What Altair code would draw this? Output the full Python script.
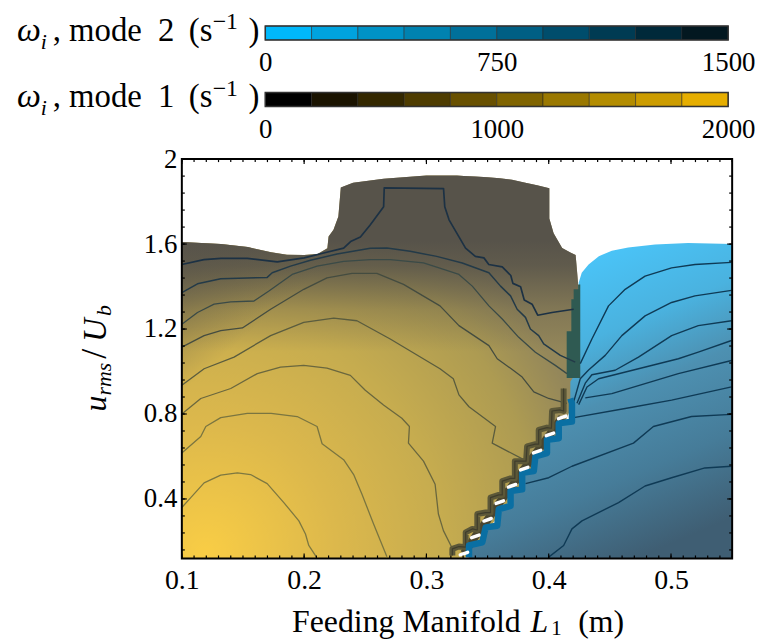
import altair as alt
import pandas as pd

FONT = "Liberation Serif"

# ---------- colour bars ----------
M2_EDGES = [0, 150, 300, 450, 600, 750, 900, 1050, 1200, 1350, 1500]
M2_COLORS = ["#00B8FB", "#00A3DF", "#0092C6", "#0082B0", "#00709A", "#005F84", "#004D6C", "#003B53", "#00293A", "#031820"]
M1_EDGES = [0, 200, 400, 600, 800, 1000, 1200, 1400, 1600, 1800, 2000]
M1_COLORS = ["#000000", "#1A1300", "#342800", "#4E3C00", "#685000", "#806400", "#9A7800", "#B38C00", "#CC9C00", "#E6AE00"]

# ---------- field outlines (L1, u/Ub) ----------
M1_X = [.1, .132, .154, .173, .186, .2, .211, .219, .22, .224, .228, .23, .24, .265, .30, .325, .3307, .34, .35, .36, .37, .38, .3905, .4005, .4005, .404, .411, .4177, .422, .424]
M1_TOP = [1.61, 1.60, 1.586, 1.561, 1.55, 1.549, 1.553, 1.58, 1.636, 1.667, 1.73, 1.866, 1.889, 1.908, 1.923, 1.923, 1.921, 1.918, 1.915, 1.91, 1.903, 1.89, 1.877, 1.863, 1.72, 1.651, 1.581, 1.56, 1.549, 1.418]
M1_BOT = [.12, .12, .12, .12, .12, .12, .12, .12, .12, .12, .12, .12, .12, .12, .12, .12, .12, .17, .25, .33, .41, .49, .57, .65, .65, .68, .73, .82, .88, 1.0]
LEFT_X = [.1, .132, .154, .173, .186, .2, .211, .24]
LEFT_TOP = [1.61, 1.60, 1.586, 1.561, 1.55, 1.549, 1.553, 1.553]
LEFT_BOT = [.9, .9, .9, .9, .9, .9, .9, .9]

M2_X = [.3265, .3348, .3348, .3457, .3484, .3579, .3592, .3688, .3688, .3783, .3783, .3878, .3891, .3986, .3986, .4082, .4082, .4177, .4177, .4245, .4245, .427, .4326, .441, .4516, .465, .487, .514, .55]
M2_TOP = [.12, .126, .181, .196, .266, .274, .352, .367, .437, .445, .523, .531, .601, .616, .679, .686, .756, .764, .952, 1.015, 1.418, 1.465, 1.504, 1.543, 1.569, 1.584, 1.598, 1.605, 1.60]

OVER_X = [.4147, .4185, .4204, .424, .4258]
OVER_TOP = [1.19, 1.34, 1.387, 1.41, 1.26]
OVER_BOT = [.97, .97, .97, .97, .97]

# ---------- mode 1 contours ----------
C1 = [(.10, 1.504), (.118, 1.527), (.132, 1.533), (.1535, 1.533), (.178, 1.516), (.20, 1.535), (.216, 1.558), (.2323, 1.581), (.238, 1.612), (.246, 1.633), (.254, 1.69), (.265, 1.776), (.2655, 1.865), (.314, 1.861), (.315, 1.776), (.3185, 1.714), (.332, 1.581), (.340, 1.542), (.347, 1.535), (.351, 1.504), (.362, 1.493), (.369, 1.452), (.3707, 1.415), (.377, 1.399), (.380, 1.337), (.3864, 1.317), (.391, 1.265), (.4027, 1.278), (.4204, 1.293)]
C2 = [(.10, 1.371), (.1128, 1.413), (.1318, 1.437), (.1698, 1.443), (.1739, 1.465), (.1889, 1.496), (.2052, 1.524), (.2269, 1.553), (.2541, 1.58), (.2677, 1.581), (.2867, 1.566), (.3084, 1.542), (.3293, 1.511), (.3511, 1.465), (.3606, 1.402), (.3688, 1.356), (.3742, 1.293), (.381, 1.255), (.385, 1.2), (.3918, 1.169), (.3959, 1.13), (.4095, 1.076), (.4217, 1.044)]
C3 = [(.1, 1.223), (.1128, 1.278), (.1264, 1.317), (.14, 1.328), (.159, 1.332), (.1712, 1.379), (.1902, 1.457), (.2106, 1.496), (.2323, 1.519), (.2541, 1.527), (.2704, 1.527), (.2976, 1.511), (.3103, 1.488), (.3266, 1.457), (.3375, 1.402), (.3511, 1.309), (.362, 1.247), (.3755, 1.161), (.3891, 1.091), (.4054, 1.029), (.4149, .99)]
C4 = [(.1, 1.115), (.1182, 1.169), (.1318, 1.192), (.1495, 1.205), (.1726, 1.293), (.1997, 1.387), (.2187, 1.441), (.2391, 1.462), (.2595, 1.462), (.2813, 1.41), (.3111, 1.309), (.3266, 1.216), (.3511, 1.122), (.3579, 1.06), (.3688, 1.015), (.3783, .974), (.3878, .904), (.4, .873), (.4149, .85)]
C5 = [(.1, .935), (.1182, 1.013), (.1427, 1.068), (.1726, 1.169), (.1997, 1.231), (.2242, 1.251), (.2432, 1.239), (.2704, 1.153), (.3111, 1.013), (.322, .966), (.3266, .89), (.3348, .834), (.3565, .741), (.3538, .663), (.3796, .585)]
C6 = [(.1, .8), (.1155, .873), (.14, .92), (.1617, .99), (.1807, 1.021), (.1997, 1.029), (.2187, 1.016), (.2378, .982), (.25, .912), (.2649, .842), (.2799, .78), (.2861, .741), (.2853, .663), (.2976, .578), (.3071, .469), (.3098, .329), (.3139, .251), (.322, .157)]
C7 = [(.1, .616), (.1155, .694), (.1196, .741), (.1318, .783), (.1535, .803), (.173, .803), (.1943, .788), (.2106, .741), (.2147, .66), (.2323, .585), (.2405, .515), (.2473, .422), (.2568, .282), (.2677, .128)]
C8 = [(.1, .36), (.1073, .406), (.1182, .476), (.1318, .512), (.1454, .523), (.1562, .515), (.1698, .472), (.1834, .383), (.1957, .297), (.2011, .235), (.2038, .181), (.2101, .126)]

# ---------- mode 2 contours ----------
B1 = [(.4258, 1.037), (.4353, 1.153), (.4489, 1.309), (.4625, 1.387), (.4788, 1.449), (.5005, 1.488), (.5196, 1.504), (.5495, 1.514)]
B2 = [(.4204, .857), (.4258, .966), (.4326, 1.007), (.4462, 1.076), (.4598, 1.169), (.4788, 1.262), (.5005, 1.325), (.5196, 1.356), (.5495, 1.382)]
B3 = [(.4231, .851), (.4299, .945), (.4353, .985), (.4543, 1.006), (.4734, 1.068), (.5005, 1.169), (.5223, 1.216), (.5495, 1.239)]
B4 = [(.4245, .844), (.4313, .927), (.4408, .966), (.4734, 1.013), (.506, 1.06), (.5223, 1.091), (.5495, 1.146)]
B5 = [(.4299, .876), (.4516, .896), (.506, .99), (.5495, 1.052)]
B6 = [(.4204, .783), (.4625, .826), (.5005, .865), (.5495, .928)]
B7 = [(.381, .472), (.4, .5), (.419, .554), (.4693, .663), (.4856, .741), (.5168, .788), (.5495, .798)]
B8 = [(.4, .126), (.4122, .181), (.419, .259), (.4272, .297), (.4571, .383), (.4788, .461), (.5005, .5), (.5277, .546), (.5495, .554)]

# ---------- staircase between the two modes ----------
STAIR_BLUE = [(.3348, .126), (.3348, .181), (.3457, .196), (.3484, .266), (.3579, .274), (.3592, .352), (.3688, .367), (.3688, .437), (.3783, .445), (.3783, .523), (.3878, .531), (.3891, .601), (.3986, .616), (.3986, .679), (.4082, .686), (.4082, .756), (.419, .764), (.419, .85), (.4177, .873)]
STAIR_OLIVE = [(.3212, .134), (.3212, .165), (.3266, .176), (.3321, .173), (.3321, .243), (.3375, .259), (.3416, .254), (.3416, .329), (.3484, .336), (.3524, .336), (.3524, .406), (.3592, .419), (.362, .419), (.362, .484), (.3688, .497), (.3723, .497), (.3723, .578), (.3783, .578), (.3815, .578), (.3823, .648), (.3891, .658), (.3918, .658), (.3918, .725), (.3986, .736), (.4022, .733), (.4027, .814), (.4095, .819), (.4122, .814), (.4122, .92)]
DASH_X = [.3307, .340, .350, .360, .370, .380, .3905, .401, .411]
DASH_Y = [.143, .224, .302, .385, .462, .543, .623, .704, .784]

# ---------- ticks ----------
X_MAJOR = [.1, .2, .3, .4, .5]
X_MINOR = [round(.1 + i * .01, 2) for i in range(46)]
Y_MAJOR = [.4, .8, 1.2, 1.6, 2.0]
Y_MINOR = [round(.16 + i * .08, 2) for i in range(24)]

W, H = 554, 402
xs = alt.Scale(domain=[.1, .55], nice=False, zero=False)
ys = alt.Scale(domain=[.12, 2.0], nice=False, zero=False)
AX = alt.Axis(values=X_MAJOR, format=".1f", labelFont=FONT, labelFontSize=28, labelColor="black",
              domain=False, ticks=False, grid=False, title=None, labelPadding=8, labelFlush=False)
AY = alt.Axis(values=Y_MAJOR, format="~g", labelFont=FONT, labelFontSize=27, labelColor="black",
              domain=False, ticks=False, grid=False, title=None, labelPadding=5, labelFlush=False)
X = alt.X("x:Q", scale=xs, axis=AX)
Y = alt.Y("y:Q", scale=ys, axis=AY)


def table(pts):
    return pd.DataFrame({"x": [p[0] for p in pts], "y": [p[1] for p in pts], "i": range(len(pts))})


def line(pts, color, width, **kw):
    return alt.Chart(table(pts)).mark_line(color=color, strokeWidth=width, strokeJoin="round", **kw).encode(x=X, y=Y, order=alt.Order("i:Q"))


def band(xv, top, bot, fill, **kw):
    df = pd.DataFrame({"x": xv, "y": top, "y2": bot})
    return alt.Chart(df).mark_area(color=fill, **kw).encode(x=X, y=Y, y2="y2:Q")


def label(text, x, y, size=33, style="normal", angle=0, align="left"):
    kw = {"angle": angle} if angle else {}
    return alt.Chart(pd.DataFrame({"a": [0]})).mark_text(
        text=text, font=FONT, fontSize=size, fontStyle=style, align=align, baseline="alphabetic", color="black", **kw
    ).encode(x=alt.value(x), y=alt.value(y))


def stop(o, c):
    return {"offset": o, "color": c}


RADIAL = {"gradient": "radial", "x1": .06, "y1": .97, "x2": .06, "y2": .97, "r1": 0, "r2": 1.0,
          "stops": [stop(0, "#F9CD45"), stop(.33, "#DCB84C"), stop(.6, "#C6AC4F"), stop(.85, "#AD9B52"), stop(1, "#94875A")]}
TOPDARK = {"gradient": "linear", "x1": 0, "y1": 0, "x2": 0, "y2": 1,
           "stops": [stop(0, "rgba(87,83,74,1)"), stop(.17, "rgba(87,83,74,1)"), stop(.235, "rgba(87,83,74,.85)"), stop(.35, "rgba(87,83,74,.3)"), stop(.46, "rgba(87,83,74,0)"), stop(1, "rgba(87,83,74,0)")]}
LEFTDARK = {"gradient": "linear", "x1": 0, "y1": .2, "x2": .7, "y2": .9,
            "stops": [stop(0, "rgba(87,83,74,.55)"), stop(.57, "rgba(87,83,74,0)"), stop(1, "rgba(87,83,74,0)")]}
BLUE = {"gradient": "linear", "x1": .3, "y1": .05, "x2": .65, "y2": 1,
        "stops": [stop(0, "#4AC8FD"), stop(.3, "#4AB2DF"), stop(.5, "#4D90B1"), stop(.75, "#467C99"), stop(1, "#3F5E73")]}

layers = [
    band(M1_X, M1_TOP, M1_BOT, RADIAL),
    band(M1_X, M1_TOP, M1_BOT, TOPDARK),
    band(LEFT_X, LEFT_TOP, LEFT_BOT, LEFTDARK),
    band(M2_X, M2_TOP, [.12] * len(M2_X), BLUE),
    band(OVER_X, OVER_TOP, OVER_BOT, "#2F5A52", interpolate="step-after"),
]
for c, col, w in [(C1, "#1C3144", 1.7), (C2, "#233A48", 1.5), (C3, "#3A4A47", 1.3), (C4, "#444C40", 1.3),
                  (C5, "#5A5C3E", 1.3), (C6, "#6A673E", 1.3), (C7, "#7A7540", 1.3), (C8, "#7E7840", 1.3)]:
    layers.append(line(c, col, w))
for c in [B1, B2, B3, B4, B5, B6, B7, B8]:
    layers.append(line(c, "#0F3A55", 1.4))
layers += [
    line(list(zip(DASH_X, DASH_Y)), "#4A4630", 8),
    line(STAIR_OLIVE, "#5C5838", 6),
    line(STAIR_OLIVE, "#3F3D2C", 1.2),
    line(STAIR_BLUE, "#0A6FA3", 6.5),
]
dash = pd.DataFrame({"x": [v - .003 for v in DASH_X], "x2": [v + .003 for v in DASH_X],
                     "y": [v - .006 for v in DASH_Y], "y2": [v + .006 for v in DASH_Y]})
layers.append(alt.Chart(dash).mark_rule(color="white", strokeWidth=3.5, strokeCap="round").encode(x=X, x2="x2:Q", y=Y, y2="y2:Q"))

# ticks point into the plot on all four sides
for vals, n in [(X_MINOR, 3), (X_MAJOR, 5)]:
    d = pd.DataFrame({"x": vals})
    layers.append(alt.Chart(d).mark_rule(color="black", strokeWidth=1.2).encode(x=X, y=alt.value(H), y2=alt.value(H - n)))
    layers.append(alt.Chart(d).mark_rule(color="black", strokeWidth=1.2).encode(x=X, y=alt.value(0), y2=alt.value(n)))
for vals, n in [(Y_MINOR, 3), (Y_MAJOR, 5)]:
    d = pd.DataFrame({"y": vals})
    layers.append(alt.Chart(d).mark_rule(color="black", strokeWidth=1.2).encode(y=Y, x=alt.value(0), x2=alt.value(n)))
    layers.append(alt.Chart(d).mark_rule(color="black", strokeWidth=1.2).encode(y=Y, x=alt.value(W), x2=alt.value(W - n)))

frame = alt.Chart(pd.DataFrame({"x": [.1], "x2": [.55], "y": [.12], "y2": [2.0]})).mark_rect(
    fillOpacity=0, stroke="black", strokeWidth=2
).encode(x=X, x2="x2:Q", y=Y, y2="y2:Q")
layers.append(frame)

# axis titles, written as pieces for the subscripts and italics
layers += [
    label("Feeding Manifold", 111, 476, size=32),
    label("L", 351, 476, size=32, style="italic"),
    label("1", 372, 479, size=21),
    label("(m)", 399, 476, size=32),
    label("u", -76, 254, size=32, style="italic", angle=270),
    label("rms", -71, 238, size=22, style="italic", angle=270),
    label("/", -76, 201, size=36, angle=270),
    label("U", -76, 184, size=33, style="italic", angle=270),
    label("b", -71, 158, size=22, style="italic", angle=270),
]
main = alt.layer(*layers).properties(width=W, height=H)


def colorbar(edges, colors, ticks, domain, name):
    df = pd.DataFrame({"lo": edges[:-1], "hi": edges[1:], "c": [str(e) for e in edges[:-1]]})
    axis = alt.Axis(values=ticks, format="d", labelFont=FONT, labelFontSize=27, labelColor="black", domain=False,
                    ticks=False, grid=False, title=None, labelPadding=10, labelFlush=False)
    xc = alt.X("lo:Q", scale=alt.Scale(domain=domain, nice=False, zero=False), axis=axis)
    bar = alt.Chart(df).mark_rect(stroke="#222222", strokeWidth=.5).encode(
        x=xc, x2="hi:Q", y=alt.value(0), y2=alt.value(14),
        color=alt.Color("c:N", scale=alt.Scale(domain=[str(e) for e in edges[:-1]], range=colors), legend=None),
    )
    outline = alt.Chart(pd.DataFrame({"lo": [edges[0]], "hi": [edges[-1]]})).mark_rect(
        fillOpacity=0, stroke="#333333", strokeWidth=1.5
    ).encode(x=xc, x2="hi:Q", y=alt.value(0), y2=alt.value(14))
    return alt.layer(
        bar, outline,
        label("ω", -166, 15, size=34, style="italic"),
        label("i", -142, 23, size=22, style="italic"),
        label(", mode", -130, 15),
        label(name, -24, 15),
        label("(s", 7, 15),
        label("−1", 31, 3, size=24),
        label(")", 67, 15),
    ).properties(width=W, height=14)


bar2 = colorbar(M2_EDGES, M2_COLORS, [0, 750, 1500], [-270.4, 1512.9], "2")
bar1 = colorbar(M1_EDGES, M1_COLORS, [0, 1000, 2000], [-360.5, 2017.2], "1")

chart = alt.vconcat(bar2, bar1, main, spacing=53, bounds="flush", padding={"left": 9, "right": 0, "top": 0, "bottom": 0}).configure_view(strokeWidth=0).resolve_scale(color="independent", x="independent", y="independent")
chart.save("out.html", embed_options={"renderer": "svg", "actions": False})
